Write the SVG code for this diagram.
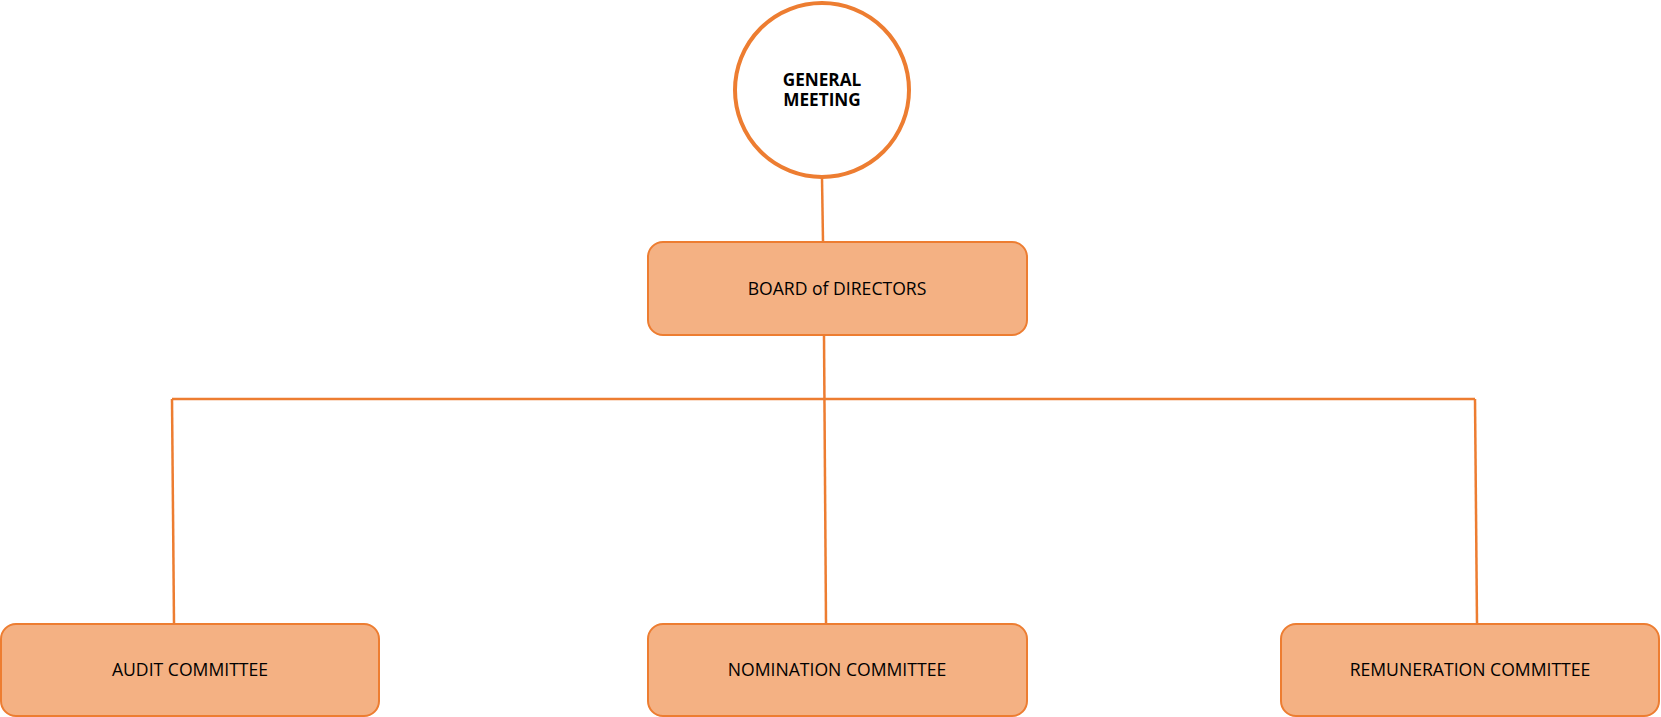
<svg xmlns="http://www.w3.org/2000/svg" width="1661" height="717" viewBox="0 0 1661 717">
<style>
.box{fill:#F4B183;stroke:#ED7D31;stroke-width:2}
.circ{fill:#FFFFFF;stroke:#ED7D31;stroke-width:4}
.lbl{font-family:"Open Sans","Liberation Sans",sans-serif;font-size:17.6px;fill:#000;text-anchor:middle}
.bold{font-weight:bold;font-size:17.2px}
.conn{stroke:#ED7D31;stroke-width:2.5;fill:none}
</style>
<rect width="1661" height="717" fill="#FFFFFF"/>
<g id="connectors">
<line class="conn" x1="822" y1="178" x2="823" y2="241"/>
<line class="conn" x1="824" y1="336" x2="826" y2="623"/>
<line class="conn" x1="172" y1="399" x2="1475" y2="399"/>
<line class="conn" x1="172" y1="399" x2="174" y2="623"/>
<line class="conn" x1="1475" y1="399" x2="1477" y2="623"/>
</g>
<g id="general-meeting">
<circle class="circ" cx="822" cy="90" r="87"/>
<text class="lbl bold" x="822" y="86">GENERAL</text>
<text class="lbl bold" x="822" y="106">MEETING</text>
</g>
<g id="board">
<rect class="box" x="648" y="242" width="379" height="93" rx="15"/>
<text class="lbl" x="837" y="295">BOARD of DIRECTORS</text>
</g>
<g id="audit">
<rect class="box" x="1" y="624" width="378" height="92" rx="15"/>
<text class="lbl" x="190" y="676">AUDIT COMMITTEE</text>
</g>
<g id="nomination">
<rect class="box" x="648" y="624" width="379" height="92" rx="15"/>
<text class="lbl" x="837" y="676">NOMINATION COMMITTEE</text>
</g>
<g id="remuneration">
<rect class="box" x="1281" y="624" width="378" height="92" rx="15"/>
<text class="lbl" x="1470" y="676">REMUNERATION COMMITTEE</text>
</g>
</svg>
